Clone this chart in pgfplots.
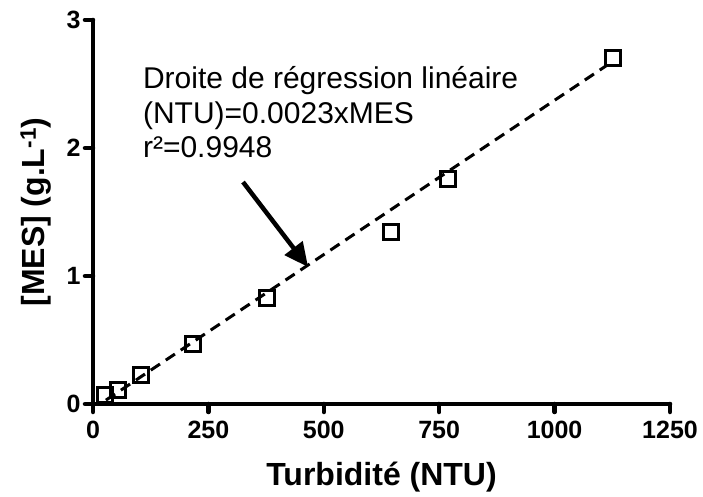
\documentclass[border=0pt]{standalone}
\usepackage{pgfplots}
\pgfplotsset{compat=1.18}
\usepackage{fontspec}
\setmainfont{Liberation Sans}
\usetikzlibrary{arrows.meta}
\begin{document}
\begin{tikzpicture}
\begin{axis}[
  scale only axis,
  width=577pt, height=384pt,
  xmin=0, xmax=1250, ymin=0, ymax=3,
  axis lines*=left,
  axis line style={line width=4.5pt, -, line cap=round},
  every tick/.style={line width=4.5pt, black, line cap=round},
  tick align=outside,
  major tick length=8pt,
  xtick={0,250,500,750,1000,1250},
  ytick={0,1,2,3},
  /pgf/number format/assume math mode=true,
  /pgf/number format/1000 sep={},
  tick label style={font=\fontsize{25}{30}\selectfont\bfseries},
  xticklabel style={yshift=-6pt},
  yticklabel style={xshift=-1pt},
  xlabel={Turbidité (NTU)},
  ylabel={[MES] (g.L\textsuperscript{-1})},
  label style={font=\fontsize{32}{38}\selectfont\bfseries},
  xlabel style={at={(axis description cs:0.5,0)}, anchor=center, yshift=-73pt},
  ylabel style={at={(axis description cs:-0.0988,0.5)}, anchor=center},
  clip=false,
]
\addplot[black, line width=3pt, dash pattern=on 11pt off 7pt] coordinates {(28,0.03) (1115,2.65)};
\addplot[only marks, mark=square, mark size=7.5pt, mark options={line width=3pt, black, solid}] coordinates {
(25,0.07) (55,0.11) (103,0.23) (217,0.47) (377,0.83) (646,1.34) (770,1.76) (1127,2.70)
};
\draw[line width=4.5pt, -{Triangle[length=24pt, width=22pt]}] (axis cs:325,1.734) -- (axis cs:466,1.07);
\node[anchor=base west, font=\fontsize{30}{35}\selectfont, inner sep=0pt] at (axis cs:108,2.461) {Droite de régression linéaire};
\node[anchor=base west, font=\fontsize{30}{35}\selectfont, inner sep=0pt] at (axis cs:108,2.191) {(NTU)=0.0023xMES};
\node[anchor=base west, font=\fontsize{30}{35}\selectfont, inner sep=0pt] at (axis cs:108,1.922) {r²=0.9948};
\end{axis}
\path ([shift={(-93pt,-93pt)}]current axis.south west) rectangle ([shift={(33pt,20pt)}]current axis.north east);
\end{tikzpicture}
\end{document}
